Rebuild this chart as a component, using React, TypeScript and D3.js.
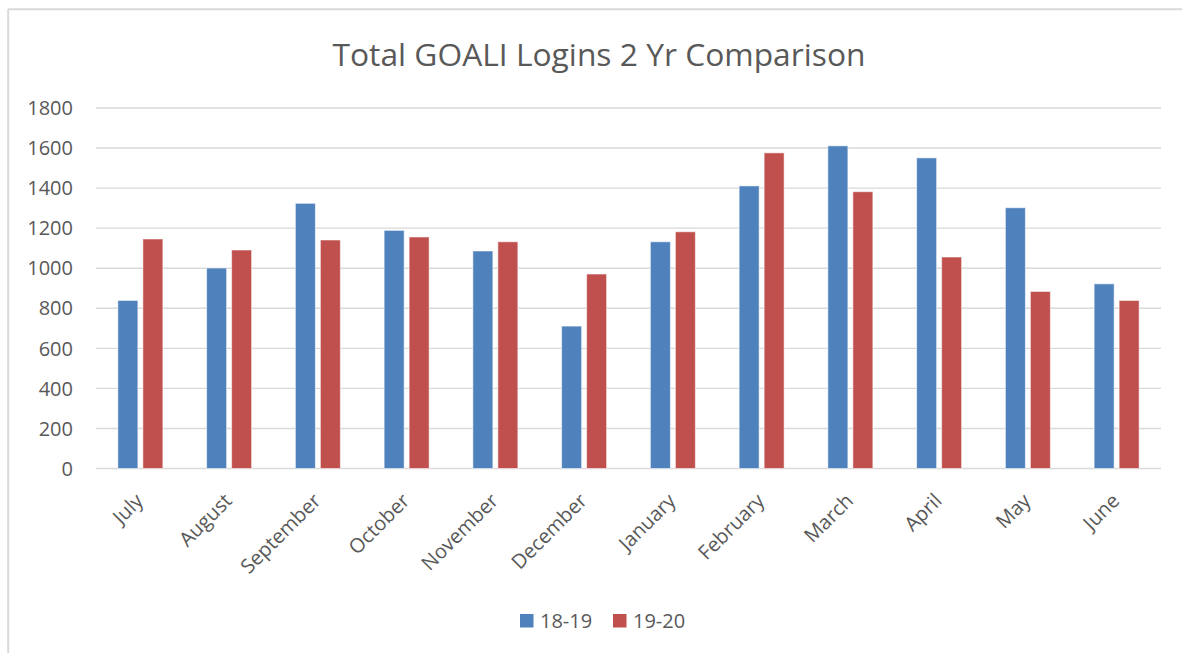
import React from "react";
import * as d3 from "d3";

const months = ["July", "August", "September", "October", "November", "December", "January", "February", "March", "April", "May", "June"];
const series = ["18-19", "19-20"];
const values1819 = [839, 1001, 1324, 1189, 1086, 711, 1132, 1411, 1611, 1551, 1302, 922];
const values1920 = [1146, 1091, 1141, 1156, 1132, 971, 1182, 1576, 1382, 1056, 884, 839];
const yTicks = [0, 200, 400, 600, 800, 1000, 1200, 1400, 1600, 1800];
const colors = ["#4F81BD", "#C0504D"];
const title = "Total GOALI Logins 2 Yr Comparison";

export default function App() {
  const W = 1182, H = 653;
  const plotLeft = 96, plotRight = 1161, plotTop = 108, plotBottom = 468.5;
  const x0 = d3.scaleBand<string>().domain(months).range([plotLeft, plotRight]).paddingInner(0.493).paddingOuter(0.2465);
  const x1 = d3.scaleBand<string>().domain(series).range([0, x0.bandwidth()]).paddingInner(0.2);
  const y = d3.scaleLinear().domain([0, 1800]).range([plotBottom, plotTop]);
  const data = [values1819, values1920];
  const textColor = "#595959";
  const font = "'Open Sans', sans-serif";

  return (
    <svg width={W} height={H} style={{ position: "fixed", left: 0, top: 0, background: "#fff" }} fontFamily={font}>
      <rect x={0} y={0} width={W} height={H} fill="#fff" />
      <line x1={8} y1={9.3} x2={W} y2={9.3} stroke="#d9d9d9" strokeWidth={2} />
      <line x1={8.2} y1={9.3} x2={8.2} y2={H} stroke="#d9d9d9" strokeWidth={2} />
      <text x={599} y={65.5} textAnchor="middle" fontSize={31} fill={textColor} textLength={533} lengthAdjust="spacingAndGlyphs">{title}</text>
      {yTicks.map((t) => (
        <g key={t}>
          <line x1={plotLeft} x2={plotRight} y1={y(t)} y2={y(t)} stroke="#d9d9d9" strokeWidth={1.4} />
          <text x={73} y={y(t)} dy="0.36em" textAnchor="end" fontSize={20} fill={textColor}>{t}</text>
        </g>
      ))}
      {months.map((m, i) => (
        <g key={m} transform={`translate(${x0(m)},0)`}>
          {series.map((s, j) => (
            <rect key={s} x={x1(s)} y={y(data[j][i])} width={x1.bandwidth()} height={plotBottom - y(data[j][i])}
              fill={colors[j]} stroke="#ffffff" strokeOpacity={0.55} strokeWidth={1} />
          ))}
        </g>
      ))}
      {months.map((m) => {
        const cx = (x0(m) as number) + x0.bandwidth() / 2;
        return (
          <text key={m} transform={`translate(${cx - 6},${492}) rotate(-45)`} textAnchor="end" fontSize={20} fill={textColor} dy="0.71em">{m}</text>
        );
      })}
      {series.map((s, j) => {
        const lx = j === 0 ? 520 : 613;
        return (
          <g key={s}>
            <rect x={lx} y={614} width={13.5} height={13.5} fill={colors[j]} />
            <text x={lx + 20} y={627.5} fontSize={20} fill={textColor}>{s}</text>
          </g>
        );
      })}
    </svg>
  );
}
